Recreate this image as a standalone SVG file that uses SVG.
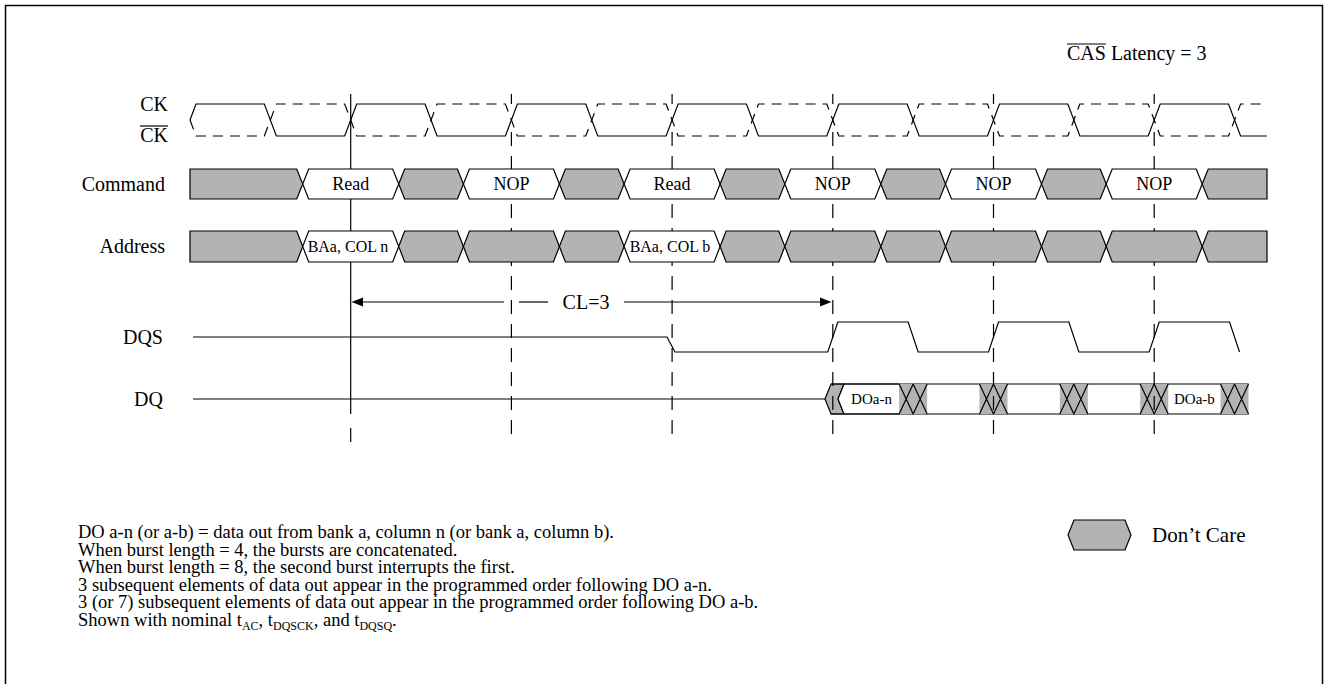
<svg xmlns="http://www.w3.org/2000/svg" width="1329" height="684" viewBox="0 0 1329 684">
<style>
text{font-family:"Liberation Serif","Times New Roman",serif;fill:#000}
.lbl{font-size:20px;text-anchor:end}
.cmd{font-size:18px;text-anchor:middle}
.adr{font-size:16px;text-anchor:middle}
.note{font-size:18.5px}
.ln{stroke:#000;stroke-width:1.2;fill:none}
.dash{stroke:#000;stroke-width:1.2;fill:none;stroke-dasharray:10 7}
.tick{stroke:#000;stroke-width:1.2;stroke-dasharray:14 10}
.g{fill:#b3b3b3;stroke:#000;stroke-width:1.2}
.w{fill:#fff;stroke:#000;stroke-width:1.2}
</style>
<rect x="5.5" y="5.5" width="1317" height="700" fill="#fff" stroke="#000" stroke-width="1.5"/>

<g id="title">
<text x="1067" y="60" style="font-size:20px">CAS Latency = 3</text>
<line x1="1067" y1="44" x2="1106" y2="44" class="ln"/>
</g>

<g id="labels">
<text class="lbl" x="168" y="111">CK</text>
<text class="lbl" x="168" y="142">CK</text>
<line x1="140" y1="126" x2="168" y2="126" class="ln"/>
<text class="lbl" x="165" y="191">Command</text>
<text class="lbl" x="165" y="253">Address</text>
<text class="lbl" x="163" y="344">DQS</text>
<text class="lbl" x="163" y="406">DQ</text>
</g>

<g id="dq">
<line x1="193" y1="399" x2="825" y2="399" class="ln"/>
<polygon points="825,399 831,384 844,384 838,399 844,414 831,414" class="g"/>
<polygon points="838,399 844,384 899.15,384 899.15,414 844,414" fill="#fff" stroke="none"/>
<polyline points="899.15,384 844,384 838,399 844,414 899.15,414" class="ln"/>
<line x1="831" y1="384" x2="1248.55" y2="384" class="ln"/>
<line x1="831" y1="414" x2="1248.55" y2="414" class="ln"/>
<g id="dq-x" class="ln">
<rect x="899.15" y="384" width="28" height="30" fill="#b3b3b3" stroke="none"/>
<path d="M899.15,384 L913.15,414 M899.15,414 L913.15,384 M913.15,384 L927.15,414 M913.15,414 L927.15,384"/>
<rect x="979.5" y="384" width="28" height="30" fill="#b3b3b3" stroke="none"/>
<path d="M979.5,384 L993.5,414 M979.5,414 L993.5,384 M993.5,384 L1007.5,414 M993.5,414 L1007.5,384"/>
<rect x="1059.85" y="384" width="28" height="30" fill="#b3b3b3" stroke="none"/>
<path d="M1059.85,384 L1073.85,414 M1059.85,414 L1073.85,384 M1073.85,384 L1087.85,414 M1073.85,414 L1087.85,384"/>
<rect x="1140.2" y="384" width="28" height="30" fill="#b3b3b3" stroke="none"/>
<path d="M1140.2,384 L1154.2,414 M1140.2,414 L1154.2,384 M1154.2,384 L1168.2,414 M1154.2,414 L1168.2,384"/>
<rect x="1220.55" y="384" width="28" height="30" fill="#b3b3b3" stroke="none"/>
<path d="M1220.55,384 L1234.55,414 M1220.55,414 L1234.55,384 M1234.55,384 L1248.55,414 M1234.55,414 L1248.55,384"/>
</g>
<text x="871.5" y="404" style="font-size:15px;text-anchor:middle">DOa-n</text>
<text x="1194.4" y="404" style="font-size:15px;text-anchor:middle">DOa-b</text>
</g>

<g id="ticks">
<line x1="350.7" y1="94" x2="350.7" y2="414" class="ln"/>
<line x1="350.7" y1="428" x2="350.7" y2="442" class="ln"/>
<line x1="511.4" y1="94" x2="511.4" y2="104" class="ln"/>
<line x1="672.1" y1="94" x2="672.1" y2="104" class="ln"/>
<line x1="832.8" y1="94" x2="832.8" y2="104" class="ln"/>
<line x1="993.5" y1="94" x2="993.5" y2="104" class="ln"/>
<line x1="1154.2" y1="94" x2="1154.2" y2="104" class="ln"/>
<line x1="511.4" y1="132" x2="511.4" y2="442" class="tick"/>
<line x1="672.1" y1="132" x2="672.1" y2="442" class="tick"/>
<line x1="832.8" y1="132" x2="832.8" y2="442" class="tick"/>
<line x1="993.5" y1="132" x2="993.5" y2="442" class="tick"/>
<line x1="1154.2" y1="132" x2="1154.2" y2="442" class="tick"/>
</g>

<g id="clock">
<path class="ln" d="M190,120 L196,104 H264.35 L276.35,136 H344.7 L356.7,104 H425.05 L437.05,136 H505.4 L517.4,104 H585.75 L597.75,136 H666.1 L678.1,104 H746.45 L758.45,136 H826.8 L838.8,104 H907.15 L919.15,136 H987.5 L999.5,104 H1067.85 L1079.85,136 H1148.2 L1160.2,104 H1228.55 L1240.55,136 H1267"/>
<path class="dash" d="M190,120 L196,136 H264.35 L276.35,104 H344.7 L356.7,136 H425.05 L437.05,104 H505.4 L517.4,136 H585.75 L597.75,104 H666.1 L678.1,136 H746.45 L758.45,104 H826.8 L838.8,136 H907.15 L919.15,104 H987.5 L999.5,136 H1067.85 L1079.85,104 H1148.2 L1160.2,136 H1228.55 L1240.55,104 H1267"/>
</g>

<g id="command">
<polygon class="g" points="190,169 296.7,169 302.7,184 296.7,199 190,199"/>
<polygon class="w" points="302.7,184 308.7,169 392.7,169 398.7,184 392.7,199 308.7,199"/>
<polygon class="g" points="398.7,184 404.7,169 457.4,169 463.4,184 457.4,199 404.7,199"/>
<polygon class="w" points="463.4,184 469.4,169 553.4,169 559.4,184 553.4,199 469.4,199"/>
<polygon class="g" points="559.4,184 565.4,169 618.1,169 624.1,184 618.1,199 565.4,199"/>
<polygon class="w" points="624.1,184 630.1,169 714.1,169 720.1,184 714.1,199 630.1,199"/>
<polygon class="g" points="720.1,184 726.1,169 778.8,169 784.8,184 778.8,199 726.1,199"/>
<polygon class="w" points="784.8,184 790.8,169 874.8,169 880.8,184 874.8,199 790.8,199"/>
<polygon class="g" points="880.8,184 886.8,169 939.5,169 945.5,184 939.5,199 886.8,199"/>
<polygon class="w" points="945.5,184 951.5,169 1035.5,169 1041.5,184 1035.5,199 951.5,199"/>
<polygon class="g" points="1041.5,184 1047.5,169 1100.2,169 1106.2,184 1100.2,199 1047.5,199"/>
<polygon class="w" points="1106.2,184 1112.2,169 1196.2,169 1202.2,184 1196.2,199 1112.2,199"/>
<polygon class="g" points="1202.2,184 1208.2,169 1267,169 1267,199 1208.2,199"/>
<text class="cmd" x="350.7" y="190">Read</text>
<text class="cmd" x="511.4" y="190">NOP</text>
<text class="cmd" x="672.1" y="190">Read</text>
<text class="cmd" x="832.8" y="190">NOP</text>
<text class="cmd" x="993.5" y="190">NOP</text>
<text class="cmd" x="1154.2" y="190">NOP</text>
</g>

<g id="address">
<polygon class="g" points="190,231 296.7,231 302.7,246.5 296.7,262 190,262"/>
<polygon class="w" points="302.7,246.5 308.7,231 392.7,231 398.7,246.5 392.7,262 308.7,262"/>
<polygon class="g" points="398.7,246.5 404.7,231 457.4,231 463.4,246.5 457.4,262 404.7,262"/>
<polygon class="g" points="463.4,246.5 469.4,231 553.4,231 559.4,246.5 553.4,262 469.4,262"/>
<polygon class="g" points="559.4,246.5 565.4,231 618.1,231 624.1,246.5 618.1,262 565.4,262"/>
<polygon class="w" points="624.1,246.5 630.1,231 714.1,231 720.1,246.5 714.1,262 630.1,262"/>
<polygon class="g" points="720.1,246.5 726.1,231 778.8,231 784.8,246.5 778.8,262 726.1,262"/>
<polygon class="g" points="784.8,246.5 790.8,231 874.8,231 880.8,246.5 874.8,262 790.8,262"/>
<polygon class="g" points="880.8,246.5 886.8,231 939.5,231 945.5,246.5 939.5,262 886.8,262"/>
<polygon class="g" points="945.5,246.5 951.5,231 1035.5,231 1041.5,246.5 1035.5,262 951.5,262"/>
<polygon class="g" points="1041.5,246.5 1047.5,231 1100.2,231 1106.2,246.5 1100.2,262 1047.5,262"/>
<polygon class="g" points="1106.2,246.5 1112.2,231 1196.2,231 1202.2,246.5 1196.2,262 1112.2,262"/>
<polygon class="g" points="1202.2,246.5 1208.2,231 1267,231 1267,262 1208.2,262"/>
<text class="adr" x="348" y="252">BAa, COL n</text>
<text class="adr" x="670" y="252">BAa, COL b</text>
</g>

<g id="dqs">
<polyline class="ln" points="193,337 667,337 675,352 827.8,352 837.8,322 908.15,322 918.15,352 988.5,352 998.5,322 1068.85,322 1078.85,352 1149.2,352 1159.2,322 1229.55,322 1239.55,352"/>
</g>

<g id="connectors">
<line x1="360" y1="302" x2="504" y2="302" class="ln"/>
<line x1="519" y1="302" x2="548" y2="302" class="ln"/>
<line x1="624" y1="302" x2="823" y2="302" class="ln"/>
<polygon points="351.5,302 363,297.5 363,306.5" fill="#000"/>
<polygon points="831.5,302 820,297.5 820,306.5" fill="#000"/>
<text x="586" y="309" style="font-size:20px;text-anchor:middle">CL=3</text>
</g>

<g id="legend">
<polygon class="g" points="1068,535 1074,520 1125,520 1131,535 1125,550 1074,550"/>
<text x="1152" y="542" style="font-size:21px">Don’t Care</text>
</g>

<g id="notes">
<text class="note" x="78" y="538">DO a-n (or a-b) = data out from bank a, column n (or bank a, column b).</text>
<text class="note" x="78" y="555.5">When burst length = 4, the bursts are concatenated.</text>
<text class="note" x="78" y="573">When burst length = 8, the second burst interrupts the first.</text>
<text class="note" x="78" y="590.5">3 subsequent elements of data out appear in the programmed order following DO a-n.</text>
<text class="note" x="78" y="608">3 (or 7) subsequent elements of data out appear in the programmed order following DO a-b.</text>
<text class="note" x="78" y="625.5">Shown with nominal t<tspan dy="4" style="font-size:12px">AC</tspan><tspan dy="-4">, t</tspan><tspan dy="4" style="font-size:12px">DQSCK</tspan><tspan dy="-4">, and t</tspan><tspan dy="4" style="font-size:12px">DQSQ</tspan><tspan dy="-4">.</tspan></text>
</g>
</svg>
